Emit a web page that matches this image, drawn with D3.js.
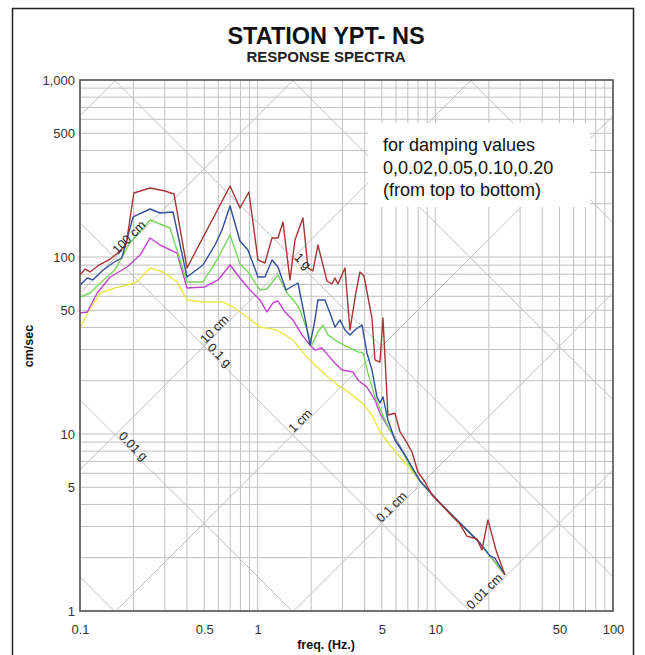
<!DOCTYPE html>
<html>
<head>
<meta charset="utf-8">
<script src="https://cdn.jsdelivr.net/npm/d3@7"></script>
<style>
body { margin: 0; background: #fff; }
svg { display: block; font-family: "Liberation Sans", Arial, sans-serif; }
</style>
</head>
<body>
<svg id="chart" width="645" height="655"></svg>
<script>
//dimensions of the svg and of the plot box
var width = 645, height = 655;
var plotL = 80, plotR = 613, plotT = 80, plotB = 611;
var G = 981; // cm/s^2

//tick labels
var xTicks = [0.1, 0.5, 1, 5, 10, 50, 100];
var yTicks = [1, 5, 10, 50, 100, 500, 1000];

//tripartite lines: displacement (cm) and acceleration (g)
var dispLines = [0.01, 0.1, 1, 10, 100, 1000];
var accLines = [0.001, 0.01, 0.1, 1, 10, 100];

//labels on the tripartite lines [text, kind, value, freq on line]
var diagLabels = [
  ["100 cm", "d", 100, 0.197],
  ["10 cm", "d", 10, 0.595],
  ["1 cm", "d", 1, 1.81],
  ["0.1 cm", "d", 0.1, 5.91],
  ["0.01 cm", "d", 0.01, 19.7],
  ["1 g", "a", 1, 1.72],
  ["0.1 g", "a", 0.1, 0.585],
  ["0.01 g", "a", 0.01, 0.191]
];

//spectra [freq Hz, PSV cm/sec], one per damping value
var damp0 = [[0.100,79.1],[0.107,85.5],[0.114,82.3],[0.128,90.1],[0.148,97.4],[0.166,106.7],[0.182,118.4],[0.201,229.9],[0.248,245.3],[0.301,236.0],[0.338,227.0],[0.400,86.7],[0.699,251.8],[0.795,189.2],[0.893,232.9],[1.004,96.2],[1.099,92.5],[1.204,128.1],[1.301,128.1],[1.388,157.6],[1.520,74.2],[1.622,124.7],[1.798,166.1],[1.919,86.7],[2.047,83.4],[2.184,116.9],[2.455,73.2],[2.619,70.4],[2.723,76.1],[2.831,70.4],[3.100,86.7],[3.307,38.7],[3.575,63.4],[3.765,82.3],[3.965,78.1],[4.398,45.2],[4.572,26.2],[4.879,25.5],[5.073,45.2],[5.411,12.8],[5.926,13.1],[6.322,10.3],[6.924,8.9],[7.385,7.91],[7.983,6.10],[8.741,5.36],[9.570,4.52],[10.61,4.08],[12.09,3.53],[13.75,3.10],[15.06,2.65],[17.14,2.55],[18.29,2.21],[19.77,3.27],[21.93,2.21],[24.64,1.60]];
var damp2 = [[0.100,69.5],[0.110,76.1],[0.118,74.2],[0.135,84.5],[0.153,92.5],[0.172,98.7],[0.199,168.3],[0.248,186.7],[0.282,177.3],[0.334,179.6],[0.400,77.1],[0.492,90.1],[0.575,116.9],[0.630,142.1],[0.699,194.1],[0.795,123.1],[0.882,109.5],[1.004,77.1],[1.099,77.1],[1.204,96.2],[1.301,87.8],[1.443,65.1],[1.686,71.3],[1.846,45.2],[1.970,31.8],[2.101,44.1],[2.184,57.2],[2.391,57.2],[2.552,48.3],[2.723,40.2],[2.905,44.1],[3.100,38.7],[3.307,36.3],[3.529,38.7],[3.864,41.3],[4.122,28.7],[4.398,23.0],[4.693,16.2],[4.879,15.0],[5.073,16.2],[5.411,12.0],[5.926,9.25],[6.745,7.61],[8.193,5.43],[9.325,4.70],[10.61,4.08],[12.09,3.58],[13.75,3.14],[15.66,2.76],[17.82,2.42],[20.29,2.05],[21.65,1.99],[24.64,1.60]];
var damp5 = [[0.100,59.4],[0.114,62.6],[0.130,71.3],[0.157,84.5],[0.191,120.0],[0.248,161.8],[0.321,145.8],[0.400,72.2],[0.492,72.2],[0.590,96.2],[0.699,133.2],[0.795,91.3],[0.882,82.3],[1.030,65.1],[1.128,66.0],[1.301,79.1],[1.462,62.6],[1.622,55.7],[1.730,50.2],[1.894,38.7],[2.021,31.8],[2.184,37.7],[2.330,41.3],[2.486,36.3],[2.831,33.1],[3.223,31.0],[3.669,29.1],[3.914,28.7],[4.176,22.1],[4.572,16.2],[5.007,13.1],[5.553,10.5],[6.322,8.45],[7.199,6.60],[8.193,5.43],[9.325,4.70],[10.61,4.08],[12.09,3.58],[13.75,3.14],[15.66,2.76],[17.82,2.42],[20.29,2.05],[24.64,1.60]];
var damp10 = [[0.100,48.3],[0.110,48.9],[0.125,62.6],[0.148,77.1],[0.184,87.8],[0.218,102.6],[0.248,128.1],[0.282,116.9],[0.352,105.3],[0.400,66.8],[0.505,67.7],[0.598,74.2],[0.699,90.1],[0.795,76.1],[0.905,65.1],[1.030,57.2],[1.128,48.9],[1.220,55.0],[1.301,56.4],[1.424,48.9],[1.580,44.1],[1.775,36.3],[1.970,31.8],[2.101,29.8],[2.300,30.6],[2.486,27.9],[2.723,25.2],[2.982,23.0],[3.439,22.4],[3.669,20.2],[4.122,18.4],[4.572,15.6],[4.879,13.1],[5.553,10.5],[6.322,8.55],[7.199,6.68],[8.193,5.43],[9.325,4.70],[10.61,4.08],[12.09,3.58],[13.75,3.14],[15.66,2.76],[17.82,2.42],[20.29,2.05],[24.64,1.60]];
var damp20 = [[0.100,39.7],[0.111,48.9],[0.130,62.6],[0.157,66.8],[0.184,69.5],[0.209,72.2],[0.248,86.7],[0.293,82.3],[0.352,72.2],[0.400,57.2],[0.492,55.7],[0.638,55.7],[0.726,52.2],[0.871,45.8],[1.030,40.2],[1.284,38.7],[1.580,34.0],[1.846,27.9],[2.101,24.5],[2.486,21.0],[2.831,18.9],[3.307,17.0],[3.864,15.0],[4.398,12.8],[4.879,10.3],[5.553,8.67],[6.322,7.42],[7.199,6.34],[8.193,5.43],[9.325,4.70],[10.61,4.08],[12.09,3.58],[13.75,3.14],[15.66,2.76],[17.82,2.42],[20.29,2.05],[24.64,1.60]];

//bottom to top so the undamped curve sits on top
var series = [
  {data: damp20, color: '#e6e84a'},
  {data: damp10, color: '#c243cf'},
  {data: damp5, color: '#78d659'},
  {data: damp2, color: '#2f4f9e'},
  {data: damp0, color: '#a83434'}
];

var svg = d3.select('#chart');

var x = d3.scaleLog().domain([0.1, 100]).range([plotL, plotR]);
var y = d3.scaleLog().domain([1, 1000]).range([plotB, plotT]);

//outer frame
svg.append('rect')
  .attr('x', 12.5).attr('y', 8.5)
  .attr('width', 621).attr('height', 660)
  .attr('fill', 'none').attr('stroke', '#222').attr('stroke-width', 1.5);

svg.append('defs').append('clipPath').attr('id', 'plotclip')
  .append('rect')
  .attr('x', plotL).attr('y', plotT)
  .attr('width', plotR - plotL).attr('height', plotB - plotT);

var gridColor = '#c0c0c0';
var grid = svg.append('g');

grid.selectAll('line.v')
  .data(x.ticks())
  .enter().append('line')
  .attr('class', 'v')
  .attr('x1', function(d) { return x(d); })
  .attr('x2', function(d) { return x(d); })
  .attr('y1', plotT).attr('y2', plotB)
  .attr('stroke', gridColor).attr('stroke-width', 1);

grid.selectAll('line.h')
  .data(y.ticks())
  .enter().append('line')
  .attr('class', 'h')
  .attr('y1', function(d) { return y(d); })
  .attr('y2', function(d) { return y(d); })
  .attr('x1', plotL).attr('x2', plotR)
  .attr('stroke', gridColor).attr('stroke-width', 1);

//PSV on a tripartite line at a frequency
function psv(kind, value, f) {
  if (kind === 'd') return 2 * Math.PI * f * value;
  return value * G / (2 * Math.PI * f);
}

var diag = svg.append('g').attr('clip-path', 'url(#plotclip)');
var diagData = dispLines.map(function(v) { return ['d', v]; })
  .concat(accLines.map(function(v) { return ['a', v]; }));

diag.selectAll('line')
  .data(diagData)
  .enter().append('line')
  .attr('x1', x(0.01)).attr('x2', x(1000))
  .attr('y1', function(d) { return y(psv(d[0], d[1], 0.01)); })
  .attr('y2', function(d) { return y(psv(d[0], d[1], 1000)); })
  .attr('stroke', gridColor).attr('stroke-width', 1);

//legend box
svg.append('rect')
  .attr('x', 368).attr('y', 123)
  .attr('width', 222).attr('height', 84)
  .attr('fill', '#fff');

var legendLines = ['for damping values', '0,0.02,0.05,0.10,0.20', '(from top to bottom)'];
svg.append('g').selectAll('text')
  .data(legendLines)
  .enter().append('text')
  .attr('x', 383)
  .attr('y', function(d, i) { return 151 + i * 22.5; })
  .attr('font-size', 18)
  .attr('fill', '#111')
  .text(function(d) { return d; });

//spectra
var line = d3.line()
  .x(function(d) { return x(d[0]); })
  .y(function(d) { return y(d[1]); });

svg.append('g').attr('clip-path', 'url(#plotclip)')
  .selectAll('path')
  .data(series)
  .enter().append('path')
  .attr('d', function(d) { return line(d.data); })
  .attr('fill', 'none')
  .attr('stroke', function(d) { return d.color; })
  .attr('stroke-width', 1.4)
  .attr('stroke-linejoin', 'round');

//labels on tripartite lines
svg.append('g').selectAll('text')
  .data(diagLabels)
  .enter().append('text')
  .attr('transform', function(d) {
    var px = x(d[3]), py = y(psv(d[1], d[2], d[3]));
    var rot = d[1] === 'd' ? -45 : 45;
    return 'translate(' + px + ',' + py + ') rotate(' + rot + ')';
  })
  .attr('dy', -0.5)
  .attr('text-anchor', 'middle')
  .attr('font-size', 12.5)
  .attr('fill', '#222')
  .text(function(d) { return d[0]; });

//plot frame
svg.append('rect')
  .attr('x', plotL).attr('y', plotT)
  .attr('width', plotR - plotL).attr('height', plotB - plotT)
  .attr('fill', 'none').attr('stroke', '#555').attr('stroke-width', 1.6);

//axes
var xAxis = svg.append('g')
  .attr('transform', 'translate(0,' + plotB + ')')
  .call(d3.axisBottom(x).tickValues(xTicks).tickSize(0).tickPadding(14)
    .tickFormat(function(d) { return String(d); }));
var yAxis = svg.append('g')
  .attr('transform', 'translate(' + plotL + ',0)')
  .call(d3.axisLeft(y).tickValues(yTicks).tickSize(0).tickPadding(5)
    .tickFormat(d3.format(',')));

[xAxis, yAxis].forEach(function(a) {
  a.select('.domain').remove();
  a.selectAll('text')
    .attr('font-family', '"Liberation Sans", Arial, sans-serif')
    .attr('font-size', 13)
    .attr('fill', '#333');
});

//titles
svg.append('text')
  .attr('x', 326).attr('y', 44)
  .attr('text-anchor', 'middle')
  .attr('font-size', 23.5).attr('font-weight', 'bold').attr('fill', '#111')
  .text('STATION YPT- NS');
svg.append('text')
  .attr('x', 326).attr('y', 62)
  .attr('text-anchor', 'middle')
  .attr('font-size', 15).attr('font-weight', 'bold').attr('fill', '#222')
  .text('RESPONSE SPECTRA');
svg.append('text')
  .attr('x', 326).attr('y', 649)
  .attr('text-anchor', 'middle')
  .attr('font-size', 12.5).attr('font-weight', 'bold').attr('fill', '#111')
  .text('freq. (Hz.)');
svg.append('text')
  .attr('transform', 'translate(33,346) rotate(-90)')
  .attr('text-anchor', 'middle')
  .attr('font-size', 12.5).attr('font-weight', 'bold').attr('fill', '#111')
  .text('cm/sec');
</script>
</body>
</html>
